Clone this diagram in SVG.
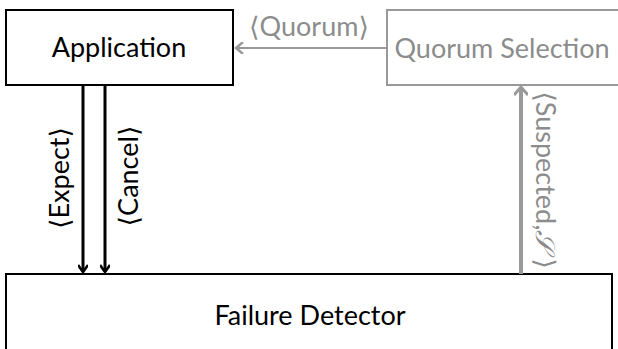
<svg xmlns="http://www.w3.org/2000/svg" width="618" height="349" viewBox="0 0 618 349">
<defs>
<style>
text{font-family:Lato,"DejaVu Sans",sans-serif;font-size:27px;text-anchor:middle;dominant-baseline:central}
.blk{fill:#000}
.gry{fill:#8c8c8c}
.box{fill:#fff;stroke:#000;stroke-width:2}
.gbox{fill:#fff;stroke:#999;stroke-width:2}
</style>
<marker id="ab" markerWidth="10" markerHeight="10" refX="8" refY="5" orient="auto" markerUnits="userSpaceOnUse" viewBox="0 0 10 10"><path d="M1,0 L8,5 L1,10" fill="none" stroke="#000" stroke-width="2.6"/></marker>
<marker id="ag" markerWidth="12" markerHeight="12" refX="9" refY="6" orient="auto" markerUnits="userSpaceOnUse" viewBox="0 0 12 12"><path d="M2,0 L9,6 L2,12" fill="none" stroke="#999" stroke-width="2.4"/></marker>
<marker id="ag2" markerWidth="14" markerHeight="14" refX="10" refY="7" orient="auto" markerUnits="userSpaceOnUse" viewBox="0 0 14 14"><path d="M2,0 L10,7 L2,14" fill="none" stroke="#999" stroke-width="3"/></marker>
</defs>
<g id="application"><rect class="box" x="6" y="10" width="227" height="75"/><text class="blk" x="119" y="46">Application</text></g>
<g id="quorum-selection"><rect class="gbox" x="387" y="10" width="240" height="75"/><text class="gry" x="502" y="47">Quorum Selection</text></g>
<g id="failure-detector"><rect class="box" x="6" y="274" width="606" height="100"/><text class="blk" x="310" y="314">Failure Detector</text></g>
<g id="connectors">
<line x1="387" y1="48" x2="236" y2="48" stroke="#999" stroke-width="2" marker-end="url(#ag)"/>
<text class="gry" x="309" y="25">⟨Quorum⟩</text>
<line x1="83" y1="85" x2="83" y2="272" stroke="#000" stroke-width="3" marker-end="url(#ab)"/>
<line x1="105" y1="85" x2="105" y2="272" stroke="#000" stroke-width="3" marker-end="url(#ab)"/>
<text class="blk" transform="translate(58,178) rotate(-90)">⟨Expect⟩</text>
<text class="blk" transform="translate(127,176) rotate(-90)">⟨Cancel⟩</text>
<line x1="521" y1="274" x2="521" y2="87" stroke="#999" stroke-width="4" marker-end="url(#ag2)"/>
<text class="gry" transform="translate(546,180) rotate(90)">⟨Suspected,<tspan font-family="'DejaVu Serif',serif" font-style="italic">𝒮</tspan> ⟩</text>
</g>
</svg>
